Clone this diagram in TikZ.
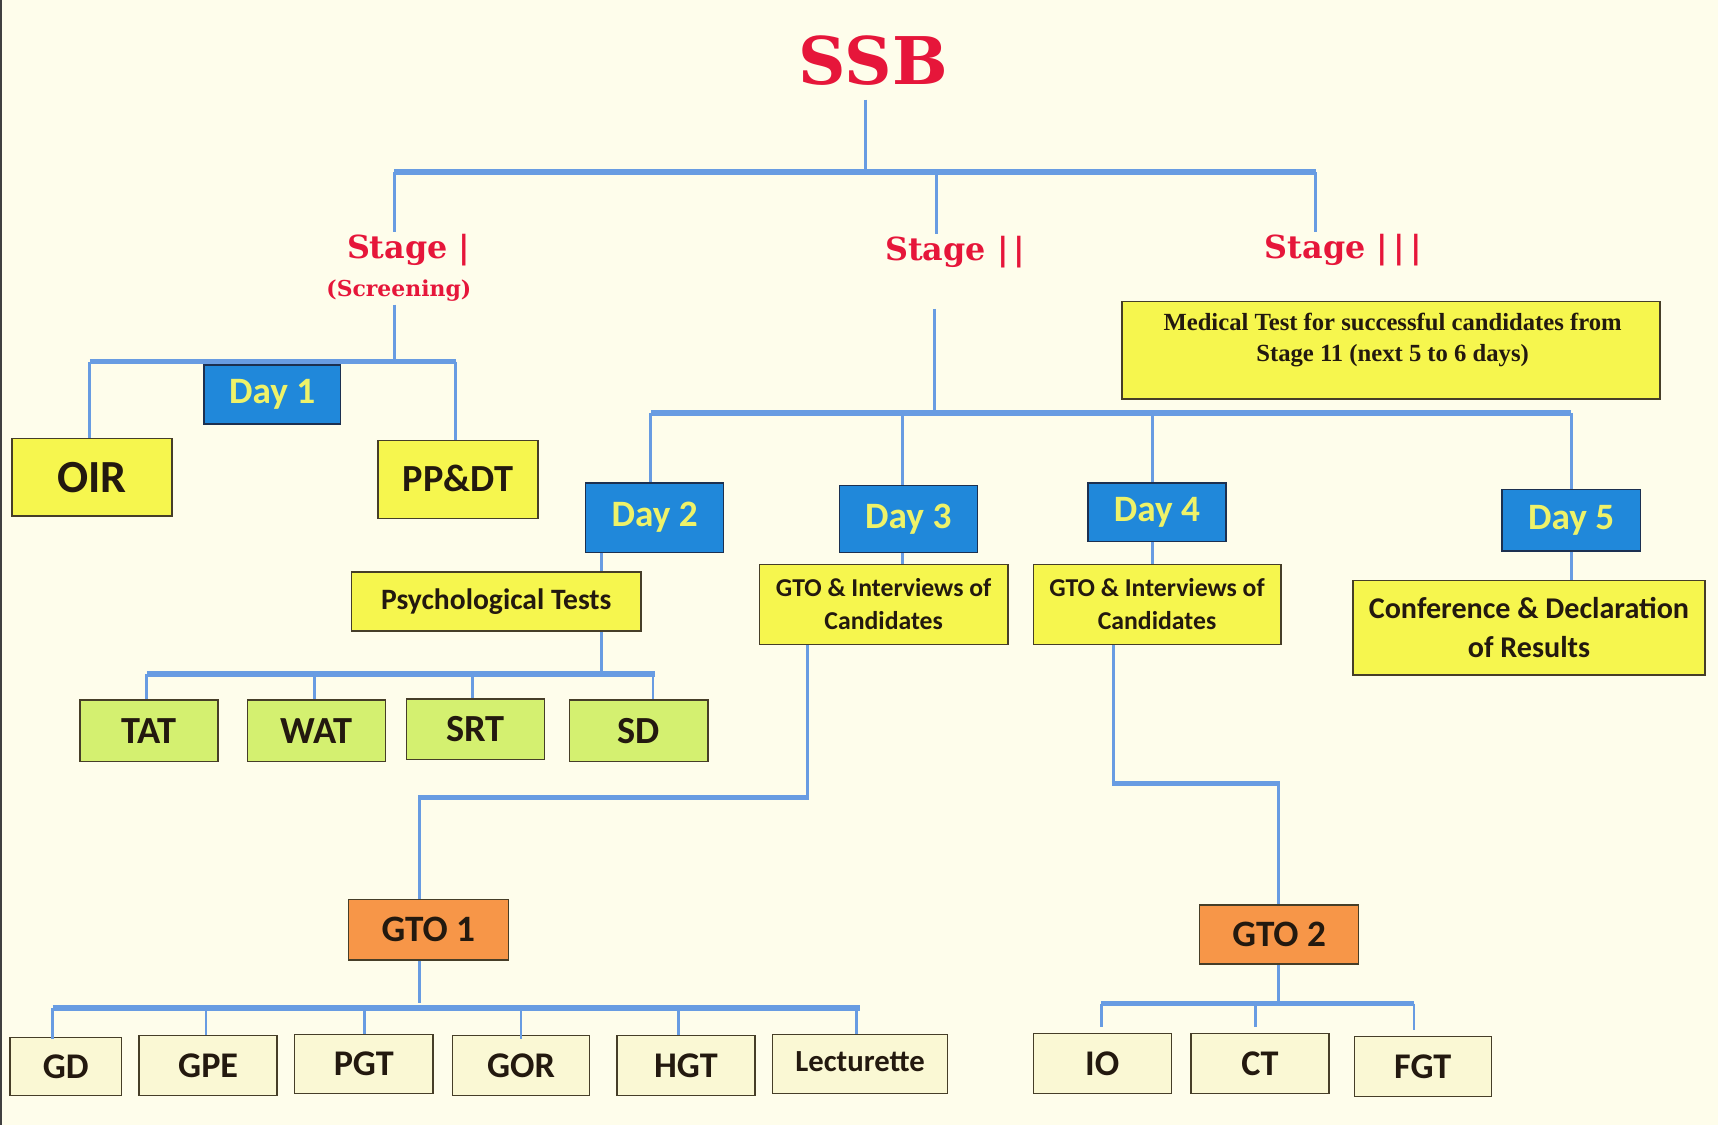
\documentclass[tikz,border=0pt]{standalone}
\usepackage{fontspec}
\setmainfont{Carlito}
\newfontfamily\slab{DejaVu Serif}
\newfontfamily\medf{Liberation Serif}
\newcommand\myfs[1]{\fontsize{#1}{#1}\selectfont}
\definecolor{bgc}{RGB}{254,253,235}
\definecolor{lnc}{RGB}{104,156,226}
\definecolor{ssbred}{RGB}{230,22,58}
\definecolor{dayfill}{RGB}{32,136,218}
\definecolor{dayline}{RGB}{28,48,80}
\definecolor{daytxt}{RGB}{238,242,105}
\definecolor{yelfill}{RGB}{246,246,78}
\definecolor{grnfill}{RGB}{212,240,112}
\definecolor{orgfill}{RGB}{247,150,72}
\definecolor{crmfill}{RGB}{250,248,212}
\definecolor{boxline}{RGB}{70,62,40}
\definecolor{txt}{RGB}{35,25,15}
\begin{document}
\begin{tikzpicture}[x=1pt,y=-1pt,
  ln/.style={draw=lnc,line width=2.6pt},
  bar/.style={draw=lnc,line width=5pt},
  box/.style={draw=boxline,line width=1.3pt,inner sep=0pt,align=center,text=txt,font=\bfseries\myfs{35}},
  yel/.style={box,fill=yelfill},
  grn/.style={box,fill=grnfill},
  org/.style={box,fill=orgfill},
  crm/.style={box,fill=crmfill},
  daybox/.style={box,fill=dayfill,draw=dayline,text=daytxt,font=\bfseries\myfs{34}},
  stage/.style={text=ssbred,font=\slab\bfseries\myfs{29},inner sep=2pt}]
\fill[bgc] (0,0) rectangle (1568,1027);
\useasboundingbox (0,0) rectangle (1568,1027);
\draw[black!75,line width=1.5pt] (0.75,0) -- (0.75,1027);

% title and stages
\node[text=ssbred,font=\slab\bfseries\myfs{60},inner sep=4pt] (ssb) at (797,55) {SSB};
\node[stage] (st1) at (373,228) {Stage |};
\node[text=ssbred,font=\slab\bfseries\myfs{20},inner sep=3pt] (scr) at (364,265) {(Screening)};
\node[stage] (st2) at (872,230) {Stage |\,|};
\node[stage] (st3) at (1226,228) {Stage |\,|\,|};

% coordinates of junctions
\coordinate (b0) at (790,157);
\coordinate (b1) at (360,157);
\coordinate (b2) at (855,157);
\coordinate (b3) at (1201,157);
\coordinate (j1) at (360,330);
\coordinate (j2top) at (853,282);
\coordinate (j2) at (853,377);
\coordinate (pj) at (549,615);
\coordinate (k1) at (737,728);
\coordinate (k2) at (383,728);
\coordinate (m1) at (1016,715);
\coordinate (m2) at (1167,715);
\coordinate (g1) at (383,920);
\coordinate (g2) at (1167,916);

% boxes
\node[yel,minimum width=146,minimum height=71] (oir) at (84,435.5) {\myfs{42}OIR};
\node[yel,minimum width=146,minimum height=71] (ppdt) at (418,437.5) {\raisebox{2pt}{PP\&DT}};
\node[daybox,minimum width=126,minimum height=63] (day2) at (597.5,472.5) {Day 2};
\node[daybox,minimum width=126,minimum height=61] (day3) at (829,473.5) {Day 3};
\node[daybox,minimum width=126,minimum height=53] (day4) at (1056,467.5) {Day 4};
\node[daybox,minimum width=126,minimum height=56] (day5) at (1434,475) {Day 5};
\node[yel,minimum width=264,minimum height=54,font=\bfseries\myfs{27}] (psych) at (453,549) {Psychological Tests};
\node[grn,minimum width=126,minimum height=56] (tat) at (136,667) {\raisebox{-2pt}{TAT}};
\node[grn,minimum width=126,minimum height=56] (wat) at (289,667) {\raisebox{-2pt}{WAT}};
\node[grn,minimum width=126,minimum height=55] (srt) at (434,665.5) {SRT};
\node[grn,minimum width=126,minimum height=56] (sd) at (583,667) {\raisebox{-2pt}{SD}};
\node[yel,minimum width=227,minimum height=73,font=\bfseries\myfs{23.5},align=center] (gto3) at (806.5,551.5) {GTO \& Interviews of\\[7pt]Candidates};
\node[yel,minimum width=226,minimum height=73,font=\bfseries\myfs{23.5},align=center] (gto4) at (1056,551.5) {GTO \& Interviews of\\[7pt]Candidates};
\node[yel,minimum width=321,minimum height=86,font=\bfseries\myfs{27.5},align=center] (conf) at (1395.5,573) {Conference \& Declaration\\[8pt]of Results};
\node[yel,minimum width=491,minimum height=89] (med) at (1269.5,319.5) {};
\node[text=txt,font=\medf\bfseries\myfs{22.5},align=center,inner sep=0pt] (medtxt) at (1271,310) {Medical Test for successful candidates from\\[6pt]Stage 11 (next 5 to 6 days)};
\node[org,minimum width=146,minimum height=55,font=\bfseries\myfs{34}] (gto1) at (391,848.5) {GTO 1};
\node[org,minimum width=145,minimum height=54,font=\bfseries\myfs{34}] (gto2) at (1167.5,853) {GTO 2};
\node[crm,minimum width=102,minimum height=53,font=\bfseries\myfs{33}] (gd) at (60,973.5) {\raisebox{-4pt}{GD}};
\node[crm,minimum width=126,minimum height=55,font=\bfseries\myfs{33}] (gpe) at (190,972.5) {\raisebox{-2pt}{GPE}};
\node[crm,minimum width=126,minimum height=54,font=\bfseries\myfs{33}] (pgt) at (332,971) {PGT};
\node[crm,minimum width=125,minimum height=55,font=\bfseries\myfs{33}] (gor) at (475.5,972.5) {\raisebox{-2pt}{GOR}};
\node[crm,minimum width=126,minimum height=55,font=\bfseries\myfs{33}] (hgt) at (626,972.5) {\raisebox{-2pt}{HGT}};
\node[crm,minimum width=160,minimum height=54,font=\bfseries\myfs{28}] (lect) at (785,971) {\raisebox{5pt}{Lecturette}};
\node[crm,minimum width=126,minimum height=55,font=\bfseries\myfs{33}] (io) at (1006,970.5) {IO};
\node[crm,minimum width=126,minimum height=55,font=\bfseries\myfs{33}] (ct) at (1150,970.5) {CT};
\node[crm,minimum width=125,minimum height=55,font=\bfseries\myfs{33}] (fgt) at (1298.5,973.5) {\raisebox{-2pt}{FGT}};

% connectors
\draw[ln] ([yshift=-9pt]ssb.south -| b0) -- (b0);
\draw[bar] (b1) -- (b3);
\draw[ln] (b1) -- (b1 |- st1.north);
\draw[ln] (b2) -- (b2 |- st2.north);
\draw[ln] (b3) -- (b3 |- st3.north);
\draw[ln] (scr.south -| j1) -- (j1);
\draw[bar] ([xshift=-2pt]oir.north |- j1) -- ([xshift=-2pt]ppdt.north |- j1);
\draw[ln] ([xshift=-2pt]oir.north |- j1) -- ([xshift=-2pt]oir.north);
\draw[ln] ([xshift=-2pt]ppdt.north |- j1) -- ([xshift=-2pt]ppdt.north);
\node[daybox,minimum width=125,minimum height=54] (day1) at (248.5,360) {Day 1};

\draw[ln] (j2top) -- (j2);
\draw[bar] ([xshift=-3.5pt]day2.north |- j2) -- (day5.north |- j2);
\draw[ln] ([xshift=-3.5pt]day2.north |- j2) -- ([xshift=-3.5pt]day2.north);
\draw[ln] ([xshift=-5pt]day3.north |- j2) -- ([xshift=-5pt]day3.north);
\draw[ln] ([xshift=-4pt]day4.north |- j2) -- ([xshift=-4pt]day4.north);
\draw[ln] (day5.north |- j2) -- (day5.north);

\draw[ln] (day2.south -| pj) -- (psych.north -| pj);
\draw[ln] (psych.south -| pj) -- (pj);
\draw[bar] ([xshift=-2pt]tat.north |- pj) -- ([xshift=15pt]sd.north |- pj);
\draw[ln] ([xshift=-2pt]tat.north |- pj) -- ([xshift=-2pt]tat.north);
\draw[ln] ([xshift=-2pt]wat.north |- pj) -- ([xshift=-2pt]wat.north);
\draw[ln] ([xshift=-3pt]srt.north |- pj) -- ([xshift=-3pt]srt.north);
\draw[ln] ([xshift=13pt]sd.north |- pj) -- ([xshift=13pt]sd.north);

\draw[ln] ([xshift=-5pt]day3.south) -- ([xshift=-5pt]day3.south |- gto3.north);
\draw[ln] ([xshift=-4pt]day4.south) -- ([xshift=-4pt]day4.south |- gto4.north);
\draw[ln] (day5.south) -- (day5.south |- conf.north);

\draw[ln] (gto3.south -| k1) -- (k1);
\draw[bar] ([xshift=1.3pt]k1) -- ([xshift=-1.3pt]k2);
\draw[ln] (k2) -- (k2 |- gto1.north);
\draw[ln] (gto4.south -| m1) -- (m1);
\draw[bar] ([xshift=-1.3pt]m1) -- ([xshift=1.3pt]m2);
\draw[ln] (m2) -- (m2 |- gto2.north);

\draw[ln] (gto1.south -| g1) -- ([yshift=5pt]g1);
\draw[bar] ([xshift=-12pt]gd.north |- g1) -- (lect.north |- g1);
\draw[ln] ([xshift=-12pt]gd.north |- g1) -- ([xshift=-12pt,yshift=-2pt]gd.north);
\draw[ln] ([xshift=-2pt]gpe.north |- g1) -- ([xshift=-2pt]gpe.north);
\draw[ln] ([xshift=1pt]pgt.north |- g1) -- ([xshift=1pt]pgt.north);
\draw[ln] (gor.north |- g1) -- ([yshift=-4pt]gor.north);
\draw[ln] ([xshift=-7pt]hgt.north |- g1) -- ([xshift=-7pt]hgt.north);
\draw[ln] ([xshift=-3pt]lect.north |- g1) -- ([xshift=-3pt]lect.north);

\draw[ln] (gto2.south -| g2) -- (g2);
\draw[bar] ([xshift=-1pt]io.north |- g2) -- ([xshift=-8pt]fgt.north |- g2);
\draw[ln] ([xshift=-1pt]io.north |- g2) -- ([xshift=-1pt,yshift=5pt]io.north);
\draw[ln] ([xshift=-4pt]ct.north |- g2) -- ([xshift=-4pt,yshift=5pt]ct.north);
\draw[ln] ([xshift=-8pt]fgt.north |- g2) -- ([xshift=-8pt,yshift=5pt]fgt.north);
\end{tikzpicture}
\end{document}
